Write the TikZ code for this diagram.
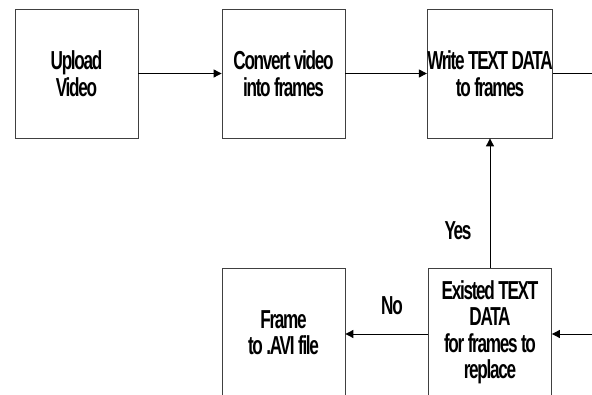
\documentclass[tikz,border=0pt]{standalone}
\usepackage{fontspec}
\setmainfont{Liberation Sans}
\newfontfamily\condfont[FakeStretch=0.66,LetterSpace=-5]{Liberation Sans Bold}
\usetikzlibrary{arrows.meta}
\begin{document}
\begin{tikzpicture}[x=1pt,y=-1pt,
  procbox/.style={draw=black!75, line width=0.8pt, minimum width=123pt, minimum height=129pt,
    inner sep=0pt, align=center, font=\condfont\fontsize{26}{26.5}\selectfont},
  lbl/.style={inner sep=0pt, font=\condfont\fontsize{26}{26.5}\selectfont},
  conn/.style={draw=black, line width=0.9pt},
  arr/.style={conn, -{Triangle[length=8pt,width=8pt]}}]
\useasboundingbox (0,0) rectangle (592,395);
\clip (0,0) rectangle (592,395);
\node[procbox] (upload) at (76.5,73.5) {Upload\\Video};
\node[procbox] (convert) at (283.5,73.5) {Convert video\\into frames};
\node[procbox] (write) at (490,73.5) {Write TEXT DATA\\to frames};
\node[procbox] (frame) at (283.5,332.5) {Frame\\to .AVI file};
\node[procbox] (exist) at (490,332.5) {Existed TEXT\\DATA\\for frames to\\replace};
\coordinate (outR) at (592,73.5);
\coordinate (inR) at (592,334);
\draw[arr] (upload.east) -- (convert.west);
\draw[arr] (convert.east) -- (write.west);
\draw[conn] (write.east) -- (outR);
\draw[arr] (exist.north) -- (write.south);
\draw[arr] (exist.west |- inR) -- (frame.east |- inR);
\draw[arr] (inR) -- (exist.east |- inR);
\node[lbl] (yes) at (458,231) {Yes};
\node[lbl] (no) at (392,306) {No};
\end{tikzpicture}
\end{document}
